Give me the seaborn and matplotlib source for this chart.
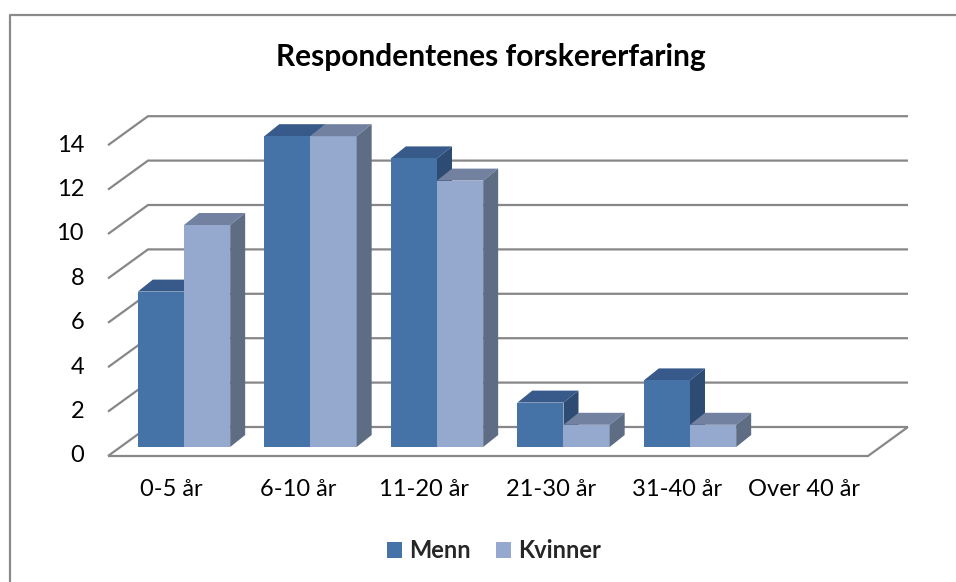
import numpy as np
import pandas as pd
import matplotlib
matplotlib.use("Agg")
import matplotlib.pyplot as plt
import seaborn as sns
from matplotlib.patches import Polygon, Patch
from matplotlib.lines import Line2D

# ---- data ----
categories = ["0-5 år", "6-10 år", "11-20 år", "21-30 år", "31-40 år", "Over 40 år"]
menn = [7, 14, 13, 2, 3, 0]
kvinner = [10, 14, 12, 1, 1, 0]
series = ["Menn", "Kvinner"]
yticks = [0, 2, 4, 6, 8, 10, 12, 14]
title = "Respondentenes forskererfaring"

df = pd.DataFrame({
    "kategori": categories * 2,
    "antall": menn + kvinner,
    "kjønn": ["Menn"] * len(categories) + ["Kvinner"] * len(categories),
})

front = {"Menn": "#4572A7", "Kvinner": "#95A9CF"}
topc = {"Menn": "#375A8A", "Kvinner": "#71819F"}
sidec = {"Menn": "#2E4B74", "Kvinner": "#5E6C84"}
grid_col = "#878787"

sns.set_theme(style="white")
plt.rcParams["font.family"] = ["Lato", "DejaVu Sans"]

W, H = 956, 582
fig = plt.figure(figsize=(W / 100, H / 100), dpi=100)
ax = fig.add_axes([0, 0, 1, 1])

# pixel <-> data mapping
X0, SX = 184.0, 126.5   # x_px = X0 + SX * i
Y0, SY = 447.0, 22.2    # y_px = Y0 - SY * v

def dx(px):
    return (px - X0) / SX

def dy(py):
    return (Y0 - py) / SY

sns.barplot(data=df, x="kategori", y="antall", hue="kjønn", hue_order=series,
            palette=front, saturation=1, width=0.73, ax=ax, legend=False,
            edgecolor="none", linewidth=0)

# 3D faces of bars
ddx = 15 / SX
ddy = 12 / SY
for ci, name in enumerate(series):
    zf = 3 if name == "Menn" else 4
    zb = 2.5 if name == "Menn" else 4.1
    for bar in ax.containers[ci]:
        x0 = bar.get_x(); w = bar.get_width(); h = bar.get_height()
        if h <= 0:
            bar.set_visible(False)
            continue
        bar.set_zorder(zf)
        top = Polygon([(x0, h), (x0 + w, h), (x0 + w + ddx, h + ddy), (x0 + ddx, h + ddy)],
                      closed=True, facecolor=topc[name], edgecolor="none", zorder=zb)
        side = Polygon([(x0 + w, 0), (x0 + w + ddx, ddy), (x0 + w + ddx, h + ddy), (x0 + w, h)],
                       closed=True, facecolor=sidec[name], edgecolor="none", zorder=zb)
        ax.add_patch(top)
        ax.add_patch(side)

# walls / gridlines
x_fl, x_bl, x_br, x_fr = dx(108), dx(148), dx(908), dx(868)
off_front = dy(456)
off_back = dy(427)
for v in yticks:
    ax.plot([x_fl, x_bl, x_br], [v + off_front, v + off_back, v + off_back],
            color=grid_col, lw=1.6, zorder=1, solid_joinstyle="miter", solid_capstyle="butt")
    ax.text(dx(84), v + off_front, str(v), ha="right", va="center", fontsize=17, color="#000000")
ax.plot([x_fl, x_fr, x_br], [off_front, off_front, off_back],
        color=grid_col, lw=1.6, zorder=1, solid_joinstyle="miter", solid_capstyle="butt")

# category labels sit at the floor-front category centres
label_shift = -12.7 / SX
for i, c in enumerate(categories):
    ax.text(i + label_shift, dy(490), c, ha="center", va="center", fontsize=17, color="#000000")

ax.set_xlim(dx(0), dx(W))
ax.set_ylim(dy(H), dy(0))
ax.axis("off")

fig.text(491 / W, 1 - 57 / H, title, ha="center", va="center",
         fontsize=21.5, fontweight="bold", color="#000000")

handles = [Patch(facecolor=front[s], edgecolor="none") for s in series]
fig.legend(handles, series, loc="center", bbox_to_anchor=(494 / W, 1 - 551 / H), ncol=2,
           frameon=False, prop={"weight": "bold", "size": 17}, handlelength=0.64,
           handleheight=0.64, columnspacing=1.05, handletextpad=0.3)

fig.add_artist(Line2D([9.5 / W, 9.5 / W, 1], [0, 1 - 15 / H, 1 - 15 / H],
                      transform=fig.transFigure, color="#8a8a8a", lw=1.6))

fig.savefig("out.png", dpi=100, facecolor="white")
